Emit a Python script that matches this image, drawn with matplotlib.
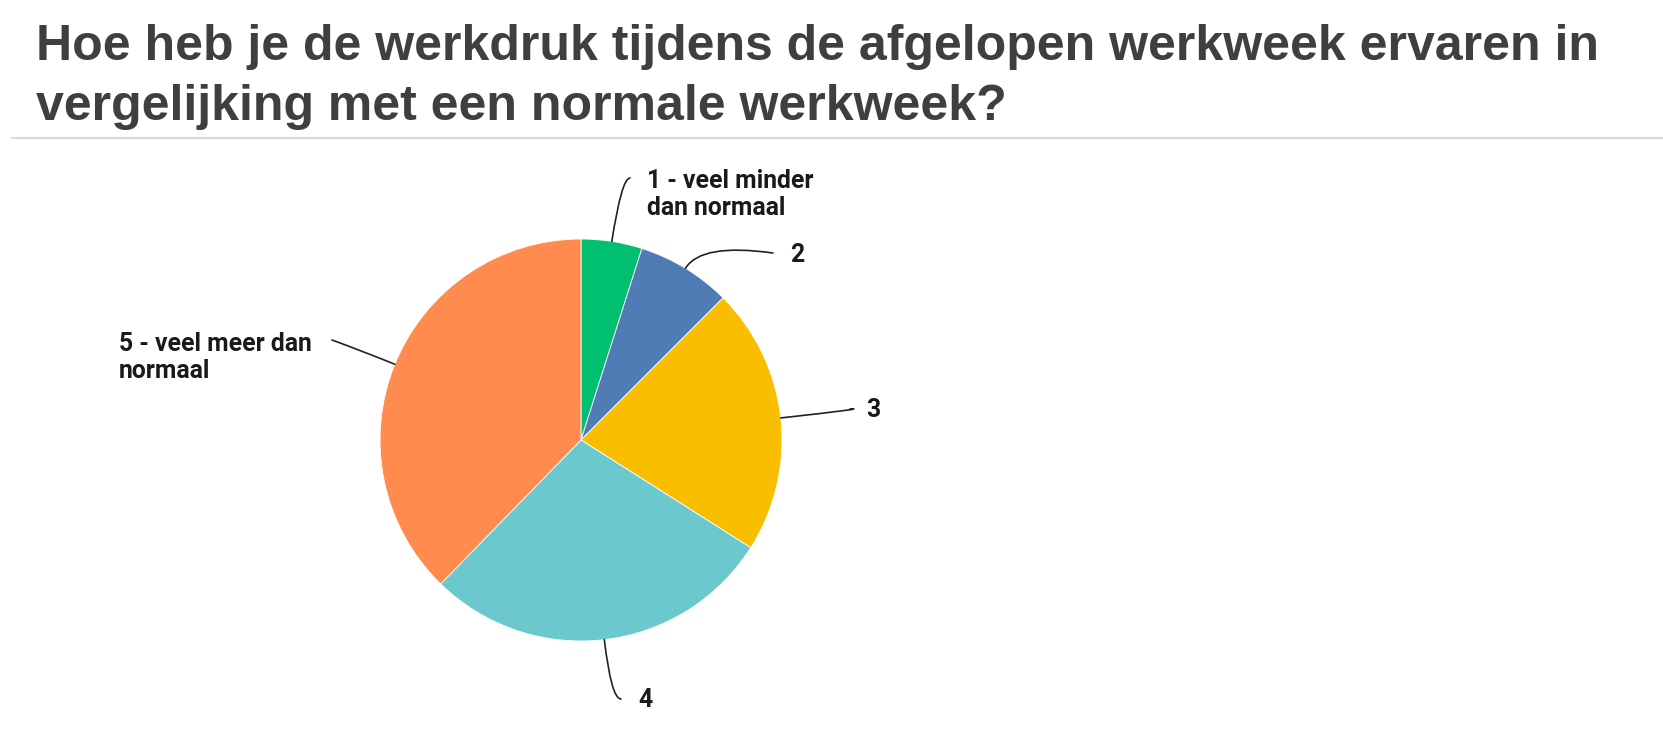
import matplotlib
matplotlib.use("Agg")
import matplotlib.pyplot as plt
import numpy as np

# survey answers (share of respondents)
categories = ["1 - veel minder\ndan normaal", "2", "3", "4", "5 - veel meer dan\nnormaal"]
shares = [4.9, 7.6, 21.5, 28.3, 37.7]
colors = ["#00BF6F", "#507CB6", "#F9BE00", "#6BC8CD", "#FF8B4F"]
title = "Hoe heb je de werkdruk tijdens de afgelopen werkweek ervaren in\nvergelijking met een normale werkweek?"

W, H = 1663, 749

fig = plt.figure(figsize=(W / 100, H / 100), dpi=100)
ax = fig.add_axes([0, 0, 1, 1])

cx, cy, r = 581, H - 440, 201
wedges, _ = ax.pie(shares, colors=colors, startangle=90, counterclock=False,
                   center=(cx, cy), radius=r,
                   wedgeprops=dict(edgecolor="white", linewidth=0.6))
ax.set_xlim(0, W)
ax.set_ylim(0, H)
ax.set_aspect("equal", adjustable="box")
ax.axis("off")

# label layout (pixel positions from the top-left)
line_end = [(630, 178), (773, 253), (850, 409), (621, 699), (332, 340)]
text_pos = [(647, 169), (790, 255), (866, 410), (638, 700), (119, 332)]
text_va = ["top", "center", "center", "center", "top"]
end_angle = [0, -8, 3, 0, 160]

for w, lab, (ex, ey), (tx, ty), va, ea in zip(wedges, categories, line_end, text_pos, text_va, end_angle):
    mid = np.deg2rad((w.theta1 + w.theta2) / 2)
    px, py = cx + r * np.cos(mid), cy + r * np.sin(mid)
    ax.annotate("", xy=(px, py), xytext=(ex, H - ey),
                arrowprops=dict(arrowstyle="-", color="#222222", lw=1.2,
                                shrinkA=0, shrinkB=0,
                                connectionstyle="angle3,angleA=%d,angleB=%.1f" % (ea, np.rad2deg(mid))))
    ax.text(tx, H - ty, lab, ha="left", va=va, fontsize=17.8, fontweight="bold",
            family="Roboto", color="#1a1a1a", linespacing=1.15)

fig.text(36 / W, 1 - 24 / H, title, ha="left", va="top", fontsize=36, fontweight="bold",
         family="Liberation Sans", color="#3f3f3f", linespacing=1.38)
fig.add_artist(plt.Line2D([12 / W, 1], [1 - 138 / H, 1 - 138 / H], color="#d9d9d9", lw=1.5))

fig.savefig("out.png", dpi=100, facecolor="white")
